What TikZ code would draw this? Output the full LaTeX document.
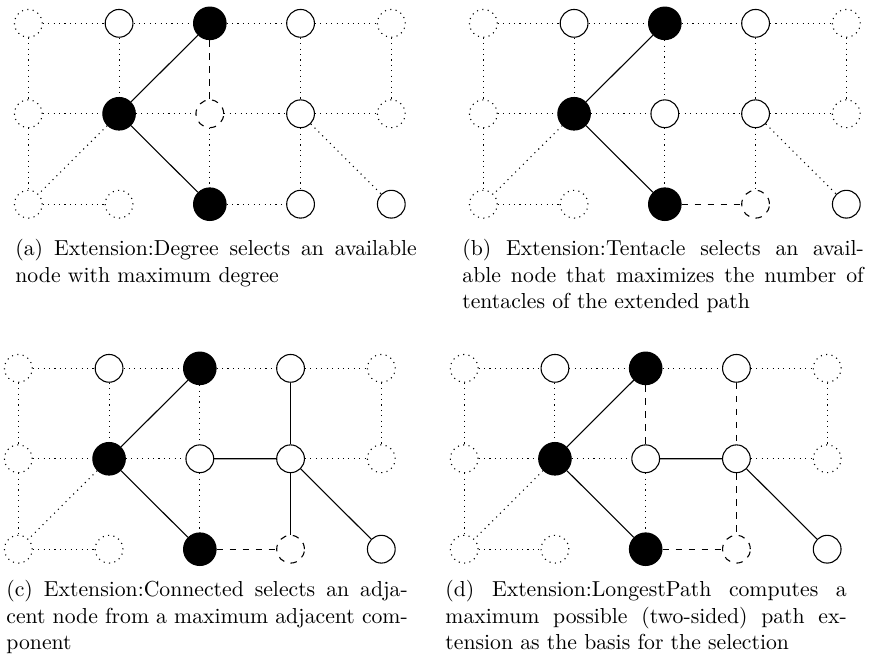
\documentclass[tikz,border=0pt]{standalone}
\usepackage{tikz}

\begin{document}
\begin{tikzpicture}[
  vtx/.style={circle, draw, inner sep=0pt, minimum size=12.8pt, line width=0.5pt},
  vopen/.style={vtx, fill=white},
  vfull/.style={vtx, fill=black, minimum size=15pt},
  vghost/.style={vtx, dotted},
  vcand/.style={vtx, dashed},
  egrid/.style={dotted, line width=0.5pt},
  epath/.style={line width=0.5pt},
  eext/.style={dashed, line width=0.5pt},
  panel/.style={x=1.47cm, y=-1.465cm},
  caption/.style={text width=185pt, align=justify, anchor=base west, inner sep=0pt, font=\normalsize},
]
\useasboundingbox (0,0) rectangle (14.094,-10.692);

% (a) Degree
\begin{scope}[shift={(0.459cm,-0.378cm)}, panel]
\node[vghost] (a11) at (0,0) {};
\node[vopen]  (a12) at (1,0) {};
\node[vfull]  (a13) at (2,0) {};
\node[vopen]  (a14) at (3,0) {};
\node[vghost] (a15) at (4,0) {};
\node[vghost] (a21) at (0,1) {};
\node[vfull]  (a22) at (1,1) {};
\node[vcand]  (a23) at (2,1) {};
\node[vopen]  (a24) at (3,1) {};
\node[vghost] (a25) at (4,1) {};
\node[vghost] (a31) at (0,2) {};
\node[vghost] (a32) at (1,2) {};
\node[vfull]  (a33) at (2,2) {};
\node[vopen]  (a34) at (3,2) {};
\node[vopen]  (a35) at (4,2) {};

\draw[egrid] (a11) -- (a12) -- (a13) -- (a14) -- (a15);
\draw[egrid] (a21) -- (a22) -- (a23) -- (a24) -- (a25);
\draw[egrid] (a31) -- (a32);
\draw[egrid] (a33) -- (a34);
\draw[egrid] (a11) -- (a21) -- (a31);
\draw[egrid] (a12) -- (a22);
\draw[egrid] (a23) -- (a33);
\draw[egrid] (a14) -- (a24) -- (a34);
\draw[egrid] (a15) -- (a25);
\draw[egrid] (a22) -- (a31);
\draw[egrid] (a24) -- (a35);
\draw[epath] (a13) -- (a22) -- (a33);
\draw[eext] (a13) -- (a23);
\end{scope}

% (b) Tentacle
\begin{scope}[shift={(7.83cm,-0.378cm)}, panel]
\node[vghost] (b11) at (0,0) {};
\node[vopen]  (b12) at (1,0) {};
\node[vfull]  (b13) at (2,0) {};
\node[vopen]  (b14) at (3,0) {};
\node[vghost] (b15) at (4,0) {};
\node[vghost] (b21) at (0,1) {};
\node[vfull]  (b22) at (1,1) {};
\node[vopen]  (b23) at (2,1) {};
\node[vopen]  (b24) at (3,1) {};
\node[vghost] (b25) at (4,1) {};
\node[vghost] (b31) at (0,2) {};
\node[vghost] (b32) at (1,2) {};
\node[vfull]  (b33) at (2,2) {};
\node[vcand]  (b34) at (3,2) {};
\node[vopen]  (b35) at (4,2) {};

\draw[egrid] (b11) -- (b12) -- (b13) -- (b14) -- (b15);
\draw[egrid] (b21) -- (b22) -- (b23) -- (b24) -- (b25);
\draw[egrid] (b31) -- (b32);
\draw[egrid] (b11) -- (b21) -- (b31);
\draw[egrid] (b12) -- (b22);
\draw[egrid] (b13) -- (b23) -- (b33);
\draw[egrid] (b14) -- (b24) -- (b34);
\draw[egrid] (b15) -- (b25);
\draw[egrid] (b22) -- (b31);
\draw[egrid] (b24) -- (b35);
\draw[epath] (b13) -- (b22) -- (b33);
\draw[eext] (b33) -- (b34);
\end{scope}

% (c) Connected
\begin{scope}[shift={(0.297cm,-5.967cm)}, panel]
\node[vghost] (c11) at (0,0) {};
\node[vopen]  (c12) at (1,0) {};
\node[vfull]  (c13) at (2,0) {};
\node[vopen]  (c14) at (3,0) {};
\node[vghost] (c15) at (4,0) {};
\node[vghost] (c21) at (0,1) {};
\node[vfull]  (c22) at (1,1) {};
\node[vopen]  (c23) at (2,1) {};
\node[vopen]  (c24) at (3,1) {};
\node[vghost] (c25) at (4,1) {};
\node[vghost] (c31) at (0,2) {};
\node[vghost] (c32) at (1,2) {};
\node[vfull]  (c33) at (2,2) {};
\node[vcand]  (c34) at (3,2) {};
\node[vopen]  (c35) at (4,2) {};

\draw[egrid] (c11) -- (c12) -- (c13) -- (c14) -- (c15);
\draw[egrid] (c21) -- (c22) -- (c23);
\draw[egrid] (c24) -- (c25);
\draw[egrid] (c31) -- (c32);
\draw[egrid] (c11) -- (c21) -- (c31);
\draw[egrid] (c12) -- (c22);
\draw[egrid] (c13) -- (c23) -- (c33);
\draw[egrid] (c15) -- (c25);
\draw[egrid] (c22) -- (c31);
\draw[epath] (c13) -- (c22) -- (c33);
\draw[epath] (c14) -- (c24) -- (c34);
\draw[epath] (c23) -- (c24) -- (c35);
\draw[eext] (c33) -- (c34);
\end{scope}

% (d) LongestPath
\begin{scope}[shift={(7.52cm,-5.967cm)}, panel]
\node[vghost] (d11) at (0,0) {};
\node[vopen]  (d12) at (1,0) {};
\node[vfull]  (d13) at (2,0) {};
\node[vopen]  (d14) at (3,0) {};
\node[vghost] (d15) at (4,0) {};
\node[vghost] (d21) at (0,1) {};
\node[vfull]  (d22) at (1,1) {};
\node[vopen]  (d23) at (2,1) {};
\node[vopen]  (d24) at (3,1) {};
\node[vghost] (d25) at (4,1) {};
\node[vghost] (d31) at (0,2) {};
\node[vghost] (d32) at (1,2) {};
\node[vfull]  (d33) at (2,2) {};
\node[vcand]  (d34) at (3,2) {};
\node[vopen]  (d35) at (4,2) {};

\draw[egrid] (d11) -- (d12) -- (d13) -- (d14) -- (d15);
\draw[egrid] (d21) -- (d22) -- (d23);
\draw[egrid] (d24) -- (d25);
\draw[egrid] (d31) -- (d32);
\draw[egrid] (d11) -- (d21) -- (d31);
\draw[egrid] (d12) -- (d22);
\draw[egrid] (d23) -- (d33);
\draw[egrid] (d15) -- (d25);
\draw[egrid] (d22) -- (d31);
\draw[epath] (d13) -- (d22) -- (d33);
\draw[epath] (d23) -- (d24) -- (d35);
\draw[eext] (d13) -- (d23);
\draw[eext] (d14) -- (d24) -- (d34);
\draw[eext] (d33) -- (d34);
\end{scope}

% captions
\node[caption] (capa) at (0.243,-4.147) {(a) Extension:Degree selects an available\linebreak node with maximum degree};
\node[caption] (capb) at (7.484,-4.147) {(b) Extension:Tentacle selects an avail-\linebreak able node that maximizes the number of\linebreak tentacles of the extended path};
\node[caption] (capc) at (0.097,-9.671) {(c) Extension:Connected selects an adja-\linebreak cent node from a maximum adjacent com-\linebreak ponent};
\node[caption] (capd) at (7.209,-9.671) {(d) Extension:LongestPath computes a\linebreak maximum possible (two-sided) path ex-\linebreak tension as the basis for the selection};

\end{tikzpicture}
\end{document}
